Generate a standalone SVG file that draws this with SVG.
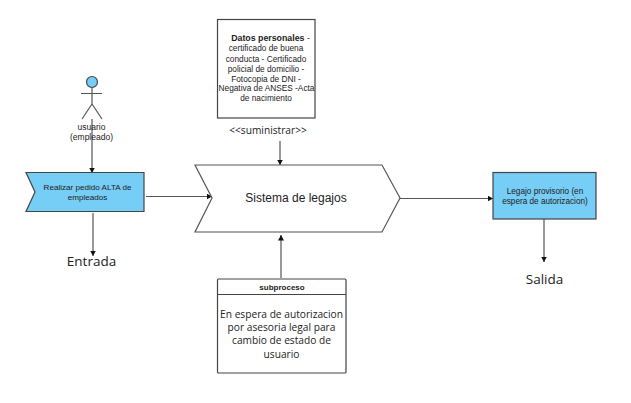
<svg xmlns="http://www.w3.org/2000/svg" width="631" height="403" viewBox="0 0 631 403">
<defs>
<marker id="ah" markerUnits="userSpaceOnUse" markerWidth="6" markerHeight="6" refX="5.5" refY="3" orient="auto"><path d="M0 0L5.500 3L0 6Z" fill="#111"/></marker>
</defs>
<style>
.l{fill:none;stroke:#555;stroke-width:1.2}
.c{fill:none;stroke:#555;stroke-width:1.2;marker-end:url(#ah)}
.b{stroke:#444;stroke-width:1.2}
.f{fill:#76cdf5}
.w{fill:#fff}
text{text-anchor:middle;fill:#222}
.s{font-family:"Liberation Sans",Arial,sans-serif}
.n{font-family:"Open Sans","Noto Sans",sans-serif}
</style>
<rect width="631" height="403" fill="#fff"/>
<g id="connectors">
<path class="c" d="M92 119V173"/>
<path class="c" d="M146 196.500H212"/>
<path class="c" d="M93 213V256"/>
<path class="c" d="M280 141V165"/>
<path class="c" d="M281 278V235"/>
<path class="c" d="M399 198.500H493"/>
<path class="c" d="M544 219V262"/>
</g>
<g id="actor">
<circle class="b f" cx="92" cy="82" r="5.500"/>
<path class="l" d="M92 87.500V104M81 93.500H102M82 119L92 104L102 119"/>
<text class="s" font-size="8.500" x="91.500" y="130">usuario</text>
<text class="s" font-size="8.500" x="91.500" y="140">(empleado)</text>
</g>
<g id="pedido">
<path class="b f" d="M26 172.500H144V211.500H26L35 192Z"/>
<text class="s" font-size="8.100" x="87.500" y="190">Realizar pedido ALTA de</text>
<text class="s" font-size="8.100" x="87.500" y="200">empleados</text>
</g>
<g id="entrada"><text class="n" font-size="13.500" x="91.500" y="266">Entrada</text></g>
<g id="datos">
<rect class="b w" x="217.500" y="19.500" width="97.500" height="98.500"/>
<text class="s" font-size="8.800" x="270.500" y="41" font-weight="bold"><tspan>Datos personales</tspan><tspan font-weight="normal"> -</tspan></text>
<text class="s" font-size="8.300" x="266" y="51">certificado de buena</text>
<text class="s" font-size="8.300" x="266" y="61.500">conducta - Certificado</text>
<text class="s" font-size="8.300" x="266" y="71.500">policial de domicilio -</text>
<text class="s" font-size="8.300" x="266" y="81.500">Fotocopia de DNI -</text>
<text class="s" font-size="8.300" x="266.500" y="91">Negativa de ANSES -Acta</text>
<text class="s" font-size="8.300" x="266" y="100.500">de nacimiento</text>
</g>
<g id="suministrar"><text class="n" font-size="10.200" x="268" y="134">&lt;&lt;suministrar&gt;&gt;</text></g>
<g id="sistema">
<path class="l w" d="M195 165H382L400 198L382 232H195L212 198Z"/>
<text class="s" font-size="12" x="296" y="202">Sistema de legajos</text>
</g>
<g id="subproceso">
<rect class="b w" x="217.500" y="279" width="128.500" height="94" rx="1"/>
<path class="b" d="M217.500 294.500H346"/>
<text class="s" font-size="8" font-weight="bold" x="282" y="289.500">subproceso</text>
<text class="n" font-size="10.200" x="281.500" y="318">En espera de autorizacion</text>
<text class="n" font-size="10.200" x="281.500" y="331">por asesoria legal para</text>
<text class="n" font-size="10.200" x="281.500" y="344">cambio de estado de</text>
<text class="n" font-size="10.200" x="281.500" y="358">usuario</text>
</g>
<g id="legajo">
<rect class="b f" x="493" y="172.500" width="103" height="46.500"/>
<text class="s" font-size="8.200" x="545" y="194">Legajo provisorio (en</text>
<text class="s" font-size="8.200" x="545" y="204">espera de autorizacion)</text>
</g>
<g id="salida"><text class="n" font-size="13.500" x="544.500" y="284">Salida</text></g>
</svg>
